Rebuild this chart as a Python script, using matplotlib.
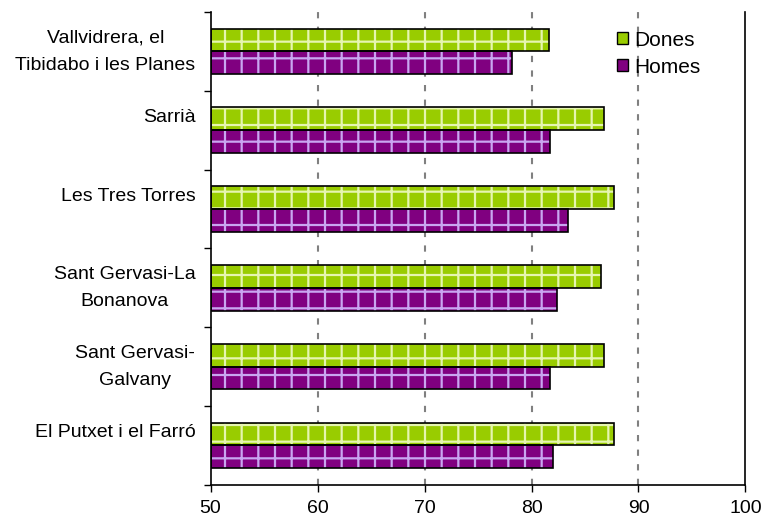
import numpy as np
import matplotlib.pyplot as plt
from matplotlib.patches import Patch
from matplotlib.transforms import ScaledTranslation

# ==========================
# DATA
# ==========================

categories = [
    "Vallvidrera, el\nTibidabo i les Planes",
    "Sarrià",
    "Les Tres Torres",
    "Sant Gervasi-La\nBonanova",
    "Sant Gervasi-\nGalvany",
    "El Putxet i el Farró",
]
dones = [81.6, 86.8, 87.7, 86.5, 86.8, 87.7]
homes = [78.2, 81.7, 83.4, 82.4, 81.7, 82.0]

x_ticks = [50, 60, 70, 80, 90, 100]

GREEN = "#99CC00"
PURPLE = "#800080"

plt.rcParams["font.family"] = ["Liberation Sans", "DejaVu Sans"]
plt.rcParams["hatch.linewidth"] = 1.6

fig = plt.figure(figsize=(7.63, 5.23), dpi=100)
ax = fig.add_axes([0.276, 0.073, 0.701, 0.904])

y = np.arange(len(categories))
h = 0.29
base = 50

# fill + hatch pass, then outline pass
ax.barh(y - h / 2, np.array(dones) - base, left=base, height=h,
        color=GREEN, edgecolor="#E6F5B0", hatch="+", linewidth=0, zorder=2)
ax.barh(y - h / 2, np.array(dones) - base, left=base, height=h,
        color="none", edgecolor="black", linewidth=1.2, zorder=3)
ax.barh(y + h / 2, np.array(homes) - base, left=base, height=h,
        color=PURPLE, edgecolor="#C9A6F0", hatch="+", linewidth=0, zorder=2)
ax.barh(y + h / 2, np.array(homes) - base, left=base, height=h,
        color="none", edgecolor="black", linewidth=1.2, zorder=3)

ax.set_xlim(50, 100)
ax.set_ylim(len(categories) - 0.5, -0.5)

ax.set_xticks(x_ticks)
ax.set_xticklabels([str(v) for v in x_ticks], fontsize=14)
ax.tick_params(axis="x", length=5, width=1, pad=6, direction="out")

ax.set_yticks(np.arange(-0.5, len(categories), 1), minor=True)
ax.tick_params(axis="y", which="minor", length=5, width=1, direction="out")

# single-line labels sit on the upper line, as in the original
labels = [c if "\n" in c else c + "\n " for c in categories]
ax.set_yticks(y)
ax.tick_params(axis="y", which="major", length=0, pad=11)
ax.set_yticklabels(labels, fontsize=14, ha="right", multialignment="center")
shift = ScaledTranslation(0, 0.065, fig.dpi_scale_trans)
for t in ax.yaxis.get_majorticklabels():
    t.set_linespacing(1.75)
    t.set_transform(t.get_transform() + shift)

for gx in [60, 70, 80, 90]:
    ax.axvline(gx, color="#808080", linestyle=(0, (3, 4)), linewidth=1.5, zorder=1)

ax.spines["top"].set_visible(False)
for s in ["left", "bottom", "right"]:
    ax.spines[s].set_linewidth(1.2)
    ax.spines[s].set_color("black")

handles = [
    Patch(facecolor=GREEN, edgecolor="black", linewidth=1),
    Patch(facecolor=PURPLE, edgecolor="black", linewidth=1),
]
ax.legend(handles, ["Dones", "Homes"], loc="upper left",
          bbox_to_anchor=(0.725, 1.0), frameon=False, fontsize=15,
          handlelength=0.5, handleheight=0.5, handletextpad=0.3,
          labelspacing=0.38)

fig.savefig("out.png", dpi=100)
